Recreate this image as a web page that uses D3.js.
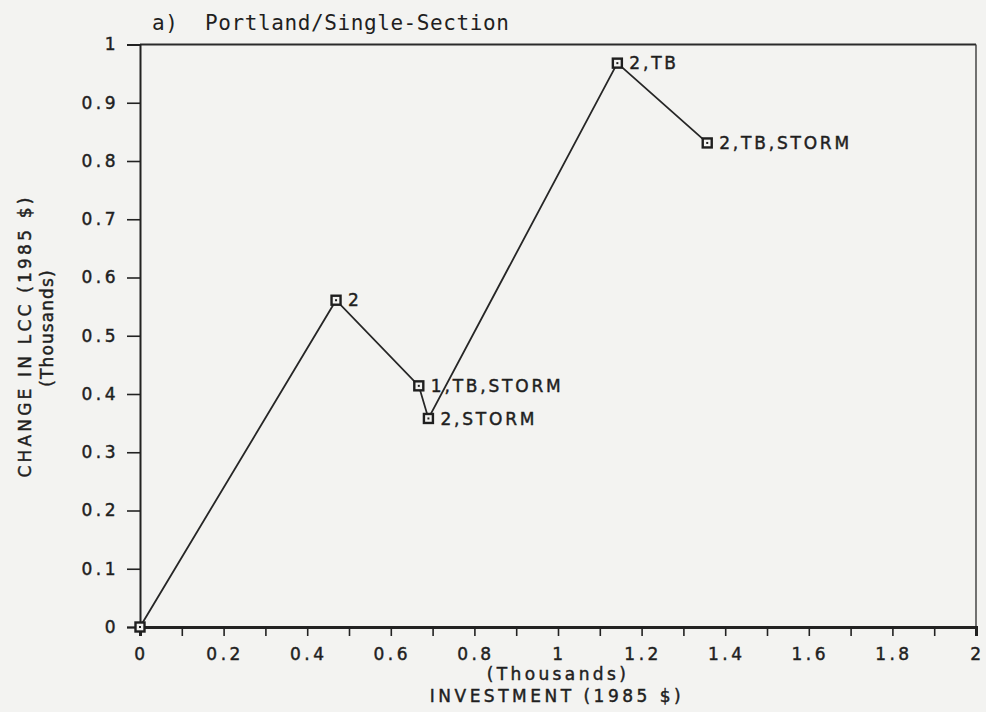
<!DOCTYPE html>
<html>
<head>
<meta charset="utf-8">
<script src="https://cdn.jsdelivr.net/npm/d3@7"></script>
<style>
  html, body { margin: 0; padding: 0; background: #f3f3f1; }
  svg { display: block; }
  text { fill: #1f1f1f; }
  .plotter { stroke: #1f1f1f; stroke-width: 0.45px; }
</style>
</head>
<body>
<div id="chart"></div>
<script>
// values (thousands of 1985 $)
const investment = [0, 0.469, 0.667, 0.690, 1.142, 1.357];
const lccChange = [0, 0.561, 0.414, 0.358, 0.968, 0.831];
const pointLabels = ["", "2", "1,TB,STORM", "2,STORM", "2,TB", "2,TB,STORM"];
const xTicks = d3.range(0, 2.001, 0.1);
const xTickLabels = ["0", "0.2", "0.4", "0.6", "0.8", "1", "1.2", "1.4", "1.6", "1.8", "2"];
const yTicks = d3.range(0, 1.001, 0.1);

const width = 986;
const height = 712;
const marginLeft = 140;
const marginRight = 10;
const marginTop = 44.5;
const marginBottom = 85;

const svg = d3.select("#chart").append("svg")
  .attr("width", width)
  .attr("height", height);

const x = d3.scaleLinear([0, 2], [marginLeft, width - marginRight]);
const y = d3.scaleLinear([0, 1], [height - marginBottom, marginTop]);
const fmt = d3.format(".1~f");

// frame (top + right)
svg.append("line")
  .attr("x1", x(0)).attr("x2", x(2))
  .attr("y1", y(1)).attr("y2", y(1))
  .attr("stroke", "#2a2a2a").attr("stroke-width", 2.2);
svg.append("line")
  .attr("x1", x(2)).attr("x2", x(2))
  .attr("y1", y(1)).attr("y2", y(0))
  .attr("stroke", "#3a3a3a").attr("stroke-width", 1.4);

// x axis
const xAxis = svg.append("g")
  .attr("transform", `translate(0,${y(0)})`)
  .call(d3.axisBottom(x).tickValues(xTicks).tickSize(9).tickFormat(""));
xAxis.select(".domain").attr("stroke", "#222").attr("stroke-width", 3);
xAxis.selectAll(".tick line").attr("stroke", "#222").attr("stroke-width", 1.6);

svg.append("g").selectAll("text")
  .data(xTickLabels)
  .join("text")
  .attr("class", "plotter")
  .attr("x", d => x(+d) + 1.5)
  .attr("y", y(0) + 33)
  .attr("text-anchor", "middle")
  .style("font-family", "DejaVu Sans")
  .style("font-size", "17px")
  .style("letter-spacing", "3.5px")
  .text(d => d);

// y axis
const yAxis = svg.append("g")
  .attr("transform", `translate(${x(0)},0)`)
  .call(d3.axisLeft(y).tickValues(yTicks).tickSize(13).tickFormat(fmt).tickPadding(8));
yAxis.select(".domain").attr("stroke", "#222").attr("stroke-width", 2);
yAxis.selectAll(".tick line").attr("stroke", "#222").attr("stroke-width", 1.6);
yAxis.selectAll(".tick text")
  .attr("class", "plotter")
  .style("font-family", "DejaVu Sans")
  .style("font-size", "17px")
  .style("letter-spacing", "3.5px")
  .attr("fill", "#1f1f1f");

// axis titles
svg.append("text")
  .attr("class", "plotter")
  .attr("x", 558).attr("y", 680)
  .attr("text-anchor", "middle")
  .style("font-family", "DejaVu Sans")
  .style("font-size", "17px")
  .style("letter-spacing", "3.4px")
  .text("(Thousands)");
svg.append("text")
  .attr("class", "plotter")
  .attr("x", 557).attr("y", 702)
  .attr("text-anchor", "middle")
  .style("font-family", "DejaVu Sans")
  .style("font-size", "17px")
  .style("letter-spacing", "3.5px")
  .text("INVESTMENT (1985 $)");

svg.append("text")
  .attr("class", "plotter")
  .attr("transform", "translate(31,336) rotate(-90)")
  .attr("text-anchor", "middle")
  .style("font-family", "DejaVu Sans")
  .style("font-size", "17px")
  .style("letter-spacing", "3.2px")
  .text("CHANGE IN LCC (1985 $)");
svg.append("text")
  .attr("class", "plotter")
  .attr("transform", "translate(53,328) rotate(-90)")
  .attr("text-anchor", "middle")
  .style("font-family", "DejaVu Sans")
  .style("font-size", "17px")
  .style("letter-spacing", "1.1px")
  .text("(Thousands)");

// title
svg.append("text")
  .attr("x", 152).attr("y", 30)
  .style("font-family", "DejaVu Sans Mono")
  .style("font-size", "21px")
  .style("letter-spacing", "0.6px")
  .style("white-space", "pre")
  .text("a)  Portland/Single-Section");

// data line
const points = investment.map((v, i) => ({ x: v, y: lccChange[i], label: pointLabels[i] }));

svg.append("path")
  .datum(points)
  .attr("fill", "none")
  .attr("stroke", "#262626")
  .attr("stroke-width", 1.8)
  .attr("d", d3.line().x(d => x(d.x)).y(d => y(d.y)));

const marks = svg.append("g").selectAll("g")
  .data(points)
  .join("g")
  .attr("transform", d => `translate(${x(d.x)},${y(d.y)})`);

marks.append("rect")
  .attr("x", -4.5).attr("y", -4.5)
  .attr("width", 9).attr("height", 9)
  .attr("fill", "#f3f3f1")
  .attr("stroke", "#1f1f1f")
  .attr("stroke-width", 2.4);
marks.append("rect")
  .attr("x", -1).attr("y", -1)
  .attr("width", 2).attr("height", 2)
  .attr("fill", "#1f1f1f");

marks.append("text")
  .attr("class", "plotter")
  .attr("x", 12)
  .attr("dy", "0.36em")
  .style("font-family", "DejaVu Sans")
  .style("font-size", "17px")
  .style("letter-spacing", "2.8px")
  .text(d => d.label);
</script>
</body>
</html>
